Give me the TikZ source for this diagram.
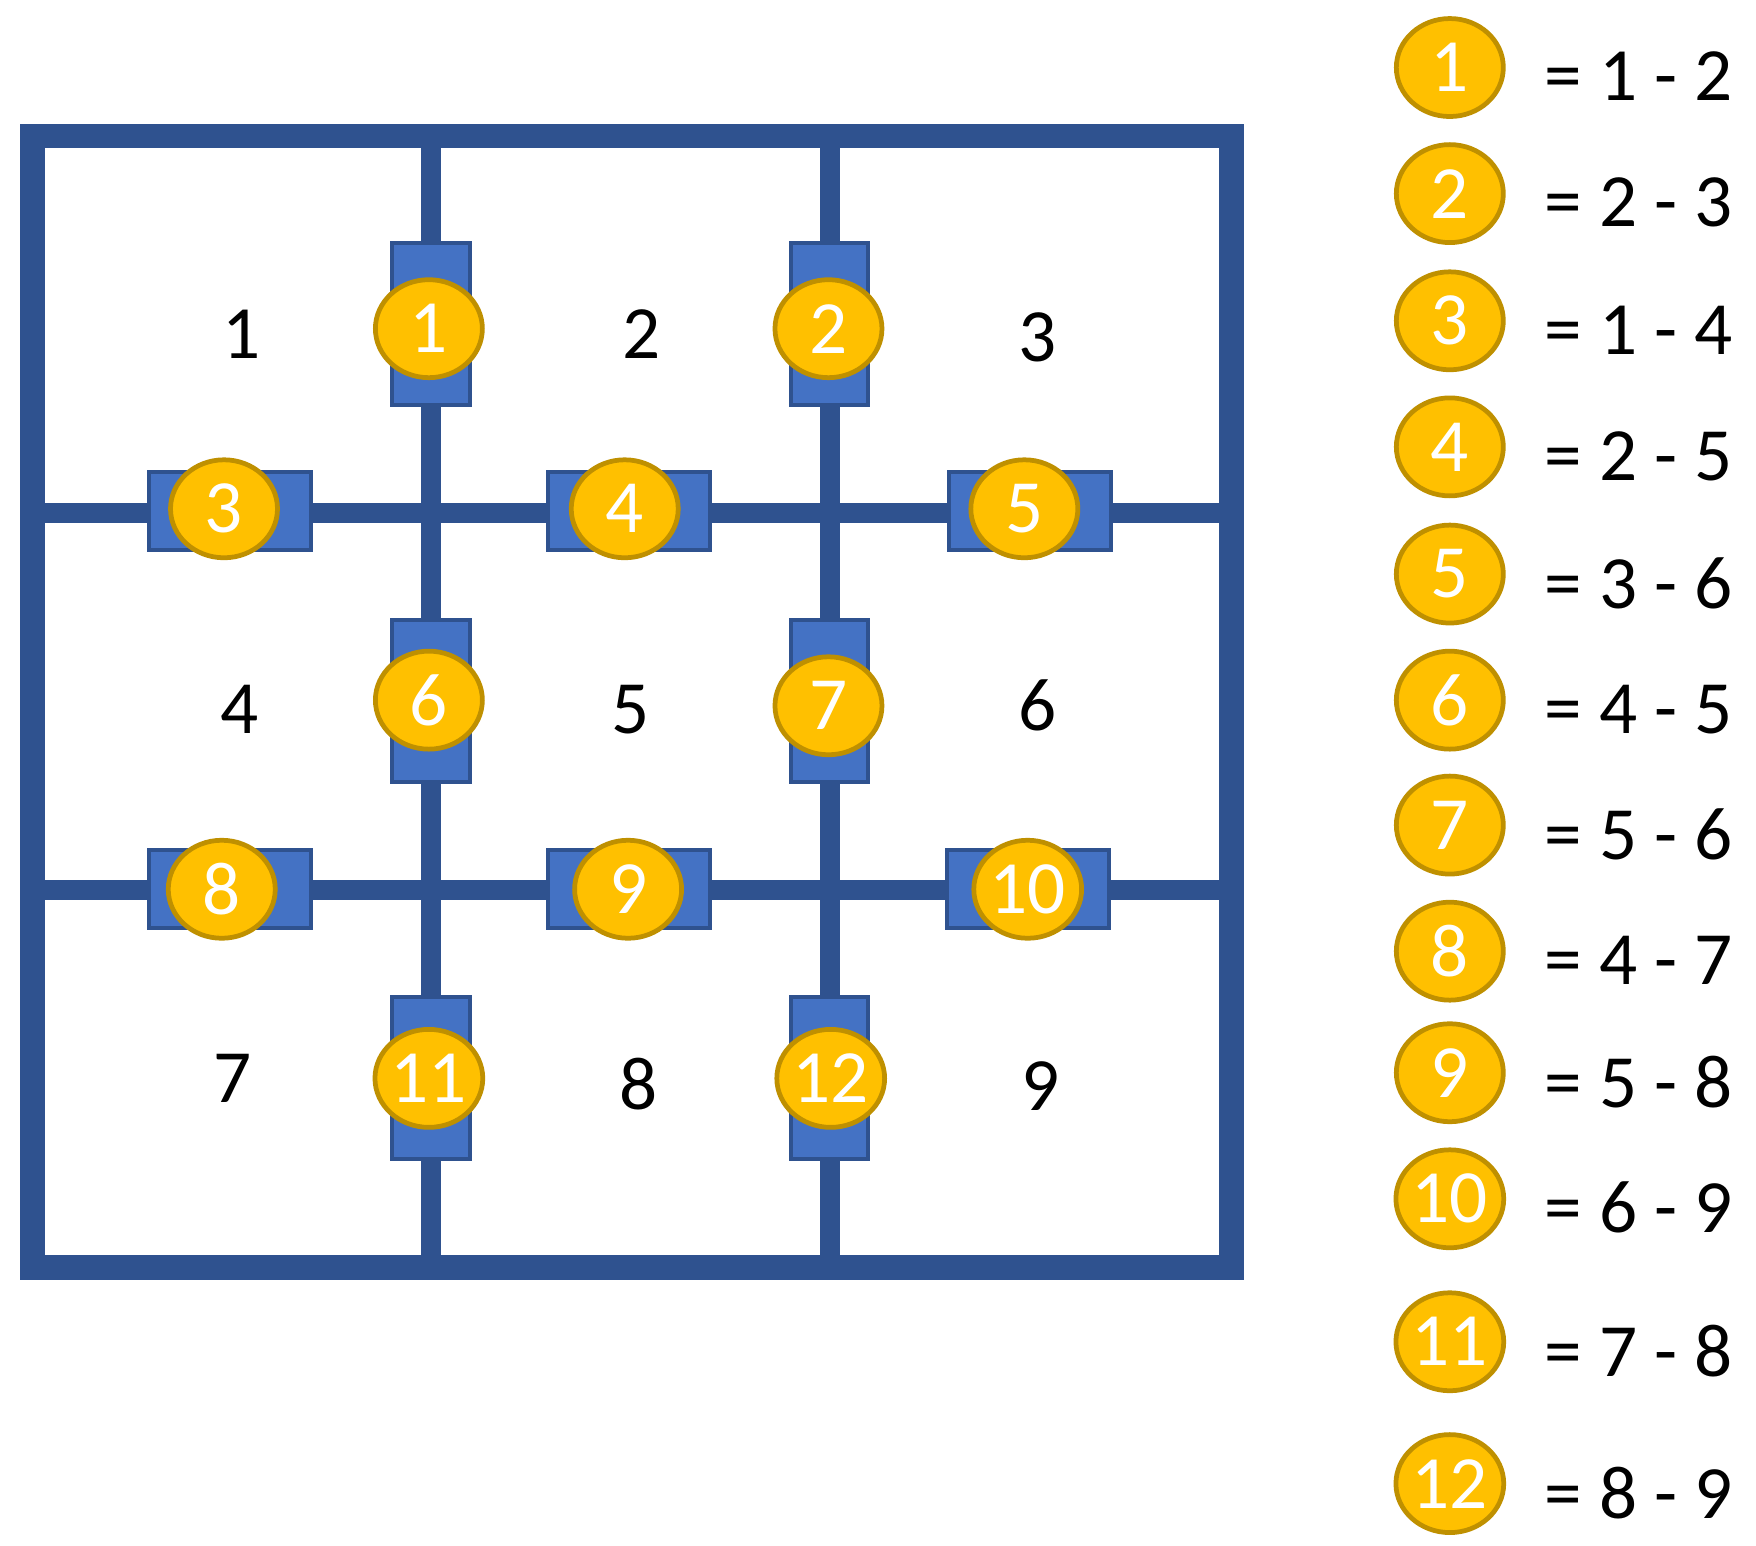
\documentclass[tikz,border=0pt]{standalone}
\usepackage{fontspec}
\setmainfont{Carlito}
\usetikzlibrary{shapes.geometric}
\definecolor{frame}{HTML}{2F528F}
\definecolor{blk}{HTML}{4472C4}
\definecolor{gold}{HTML}{FFC000}
\definecolor{golde}{HTML}{BF9000}
\begin{document}
\begin{tikzpicture}[x=0.01cm,y=-0.01cm,
  vblk/.style={rectangle,draw=frame,fill=blk,line width=1pt,minimum width=0.69cm,minimum height=1.44cm,inner sep=0},
  hblk/.style={rectangle,draw=frame,fill=blk,line width=1pt,minimum width=1.44cm,minimum height=0.69cm,inner sep=0},
  coin/.style={ellipse,draw=golde,fill=gold,line width=1.2pt,minimum width=0.95cm,minimum height=0.87cm,inner sep=0,text=white,font=\fontsize{19}{19}\selectfont},
  lbl/.style={font=\fontsize{19}{19}\selectfont},
  leg/.style={font=\fontsize{19}{19}\selectfont,anchor=west}]
\useasboundingbox (0,0) rectangle (1560,1373);
% frame
\draw[frame,line width=6.2pt] (29,121) rectangle (1094,1126);
\draw[frame,line width=5pt] (383,121) -- (383,1126) (737,121) -- (737,1126)
  (29,456) -- (1094,456) (29,791) -- (1094,791);
% blocks
\node[vblk] (v1) at (383,288) {};
\node[vblk] (v2) at (737,288) {};
\node[vblk] (v3) at (383,623) {};
\node[vblk] (v4) at (737,623) {};
\node[vblk] (v5) at (383,958) {};
\node[vblk] (v6) at (737,958) {};
\node[hblk] (h1) at (204,454) {};
\node[hblk] (h2) at (559,454) {};
\node[hblk] (h3) at (915,454) {};
\node[hblk] (h4) at (204,790) {};
\node[hblk] (h5) at (559,790) {};
\node[hblk] (h6) at (913,790) {};
% coins
\node[coin] (c1) at (381,292) {1};
\node[coin] (c2) at (736,292) {2};
\node[coin] (c3) at (199,452) {3};
\node[coin] (c4) at (555,452) {4};
\node[coin] (c5) at (910,452) {5};
\node[coin] (c6) at (381,622) {6};
\node[coin] (c7) at (736,627) {7};
\node[coin] (c8) at (197,790) {8};
\node[coin] (c9) at (558,790) {9};
\node[coin] (c10) at (913,790) {10};
\node[coin] (c11) at (381,958) {11};
\node[coin] (c12) at (738,958) {12};
% cell labels
\node[lbl] (r1) at (215,297) {1};
\node[lbl] (r2) at (570,297) {2};
\node[lbl] (r3) at (922,300) {3};
\node[lbl] (r4) at (213,630) {4};
\node[lbl] (r5) at (560,630) {5};
\node[lbl] (r6) at (922,627) {6};
\node[lbl] (r7) at (207,958) {7};
\node[lbl] (r8) at (567,963) {8};
\node[lbl] (r9) at (924,965) {9};
% legend
\foreach \n/\y/\t in {1/60/{= 1 - 2},2/172/{= 2 - 3},3/285/{= 1 - 4},4/397/{= 2 - 5},5/510/{= 3 - 6},6/622/{= 4 - 5},7/733/{= 5 - 6},8/845/{= 4 - 7},9/953/{= 5 - 8},10/1065/{= 6 - 9},11/1192/{= 7 - 8},12/1318/{= 8 - 9}}{
  \node[coin] (L\n) at (1288,\y) {\n};
  \node[leg] (T\n) at (1360,\y+8) {\t};
}
\end{tikzpicture}
\end{document}
